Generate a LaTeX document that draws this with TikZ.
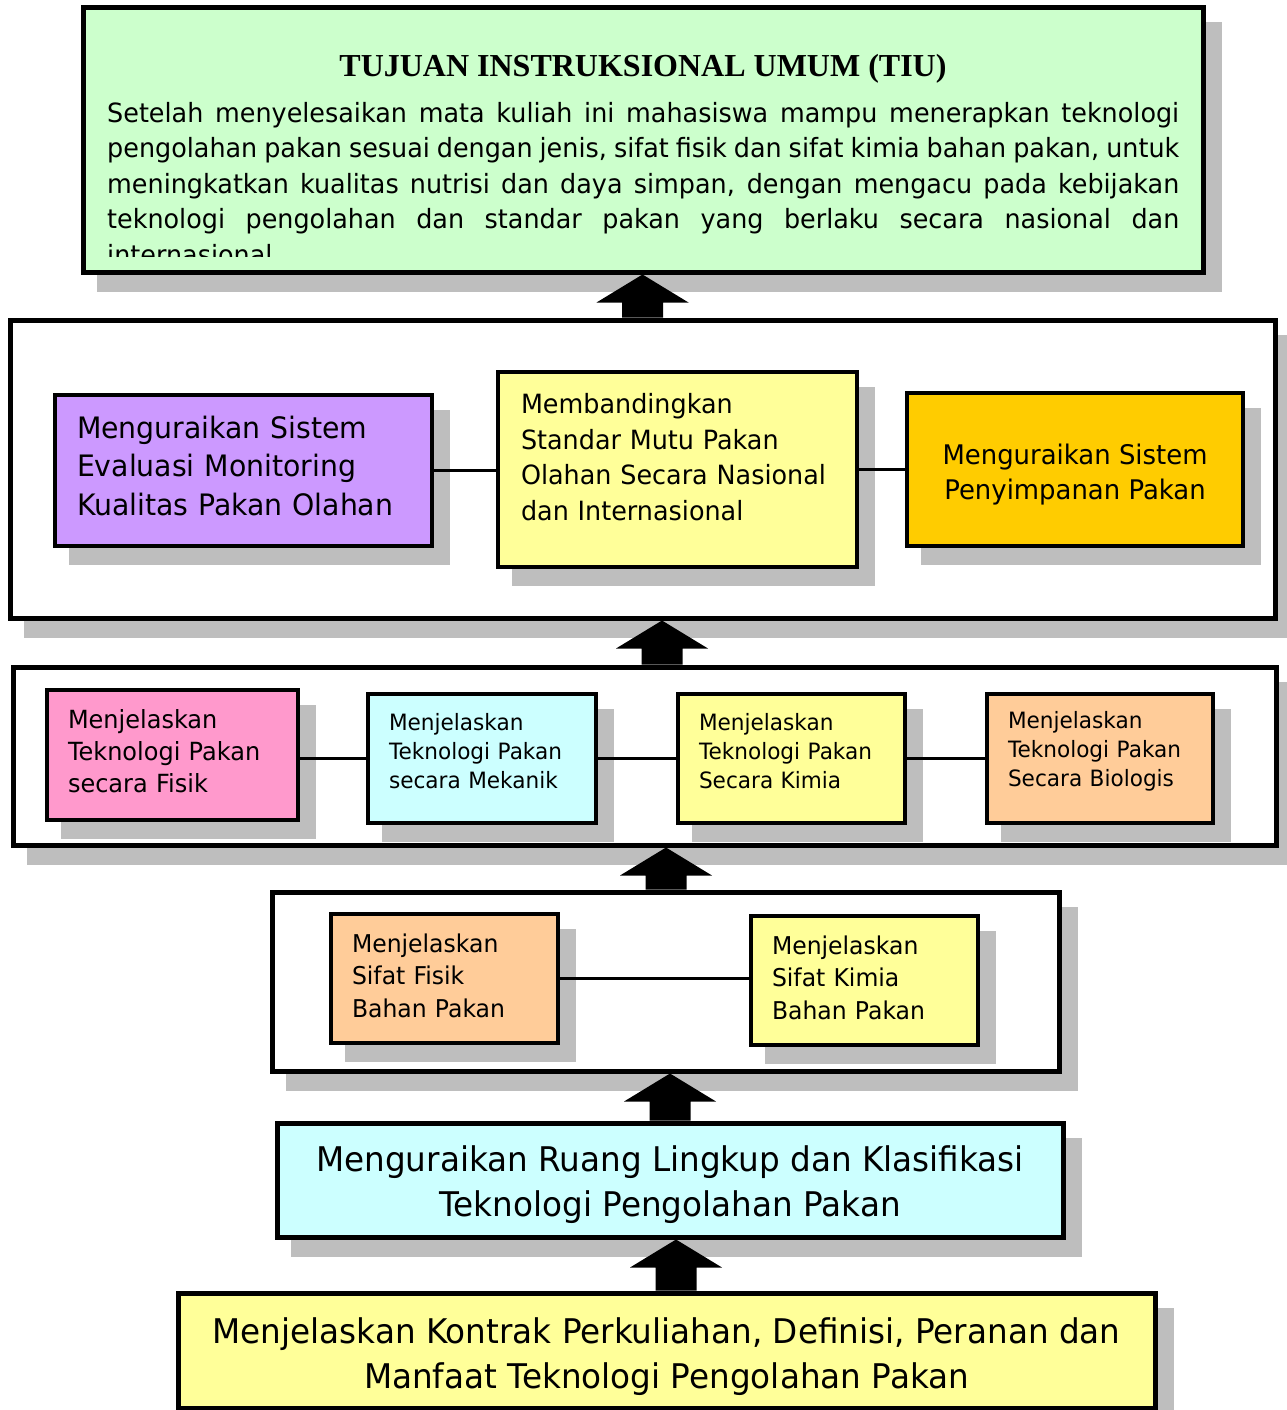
\documentclass[tikz,border=0pt]{standalone}
\usepackage{fontspec}
\setmainfont{DejaVu Sans}[FakeStretch=0.96]
\newfontfamily\tiufont{Liberation Serif}
\usetikzlibrary{shadows,calc}
\definecolor{tiugreen}{HTML}{CCFFCC}
\definecolor{lilac}{HTML}{CC99FF}
\definecolor{lemon}{HTML}{FFFF99}
\definecolor{amber}{HTML}{FFCC00}
\definecolor{rose}{HTML}{FF99CC}
\definecolor{aqua}{HTML}{CCFFFF}
\definecolor{peach}{HTML}{FFCC99}
\definecolor{shadowgray}{HTML}{BEBEBE}
\newcommand{\fs}[2]{\fontsize{#1}{#2}\selectfont}
\newcommand{\lift}[1]{\par\hrule height #1 width 0pt}
\newcommand{\jline}[1]{\hbox to 1072pt{#1}}
\begin{document}
\begin{tikzpicture}[x=1pt,y=-1pt,
  boxshadow/.style={drop shadow={shadow xshift=16pt,shadow yshift=-17pt,fill=shadowgray,draw=shadowgray,opacity=1}},
  groupbox/.style={draw,line width=5pt,fill=white,boxshadow,inner sep=0pt},
  itembox/.style={draw,line width=3.5pt,boxshadow,inner ysep=0pt,align=left},
  linkline/.style={line width=3pt},
  blockarrow/.style={to path={let \p1=(\tikztostart),\p2=(\tikztotarget) in
    (\x1-20.5pt,\y1)--(\x1-20.5pt,\y2-28pt)--(\x1-46pt,\y2-28pt)--(\x1,\y2)
    --(\x1+46pt,\y2-28pt)--(\x1+20.5pt,\y2-28pt)--(\x1+20.5pt,\y1)--cycle}}]
\useasboundingbox (0,0) rectangle (1286,1410);
% TIU
\node[groupbox,fill=tiugreen,minimum width=1120,minimum height=264] (tiu) at (643,140) {};
\node[font=\tiufont\bfseries\fs{32}{36},anchor=base,inner sep=0pt] (tiutitle) at (643,77) {TUJUAN INSTRUKSIONAL UMUM (TIU)};
\begin{scope}
\clip (86,11) rectangle (1200,256);
\node[anchor=north west,inner sep=0pt,font=\fs{26.5}{35.5}] (tiutext) at (107,102) {\vbox{%
  \jline{Setelah menyelesaikan mata kuliah ini mahasiswa mampu menerapkan teknologi}
  \jline{pengolahan pakan sesuai dengan jenis, sifat fisik dan sifat kimia bahan pakan, untuk}
  \jline{meningkatkan kualitas nutrisi dan daya simpan, dengan mengacu pada kebijakan}
  \jline{teknologi pengolahan dan standar pakan yang berlaku secara nasional dan}
  \hbox{internasional}}};
\end{scope}
% level 4
\node[groupbox,minimum width=1265,minimum height=298] (grpA) at (642.5,469) {};
\node[itembox,fill=lilac,minimum width=377,minimum height=151,text width=333pt,inner xsep=22pt,font=\fs{29.5}{38.5}] (evaluasi) at (243.5,470.5)
  {Menguraikan Sistem\\Evaluasi Monitoring\\Kualitas Pakan Olahan\lift{10pt}};
\node[itembox,fill=lemon,minimum width=359,minimum height=195,text width=313pt,inner xsep=23pt,font=\fs{26.5}{35.5}] (standar) at (677.5,469.5)
  {Membandingkan\\Standar Mutu Pakan\\Olahan Secara Nasional\\dan Internasional\lift{25pt}};
\node[itembox,fill=amber,minimum width=336,minimum height=153,inner xsep=0pt,align=center,font=\fs{27}{35.5}] (simpan) at (1075,469.5)
  {Menguraikan Sistem\\Penyimpanan Pakan\par\vspace{-10pt}};
% level 3
\node[groupbox,minimum width=1263,minimum height=178] (grpB) at (644.5,756) {};
\node[itembox,fill=rose,minimum width=251,minimum height=130,text width=209pt,inner xsep=21pt,font=\fs{25}{32}] (fisik) at (172.5,755)
  {Menjelaskan\\Teknologi Pakan\\secara Fisik\lift{7pt}};
\node[itembox,fill=aqua,minimum width=228,minimum height=129,text width=186pt,inner xsep=21pt,font=\fs{22.5}{29}] (mekanik) at (482,758.5)
  {Menjelaskan\\Teknologi Pakan\\secara Mekanik\lift{14pt}};
\node[itembox,fill=lemon,minimum width=227,minimum height=129,text width=185pt,inner xsep=21pt,font=\fs{22.5}{29}] (kimia) at (791.5,758.5)
  {Menjelaskan\\Teknologi Pakan\\Secara Kimia\lift{14pt}};
\node[itembox,fill=peach,minimum width=226,minimum height=129,text width=184pt,inner xsep=21pt,font=\fs{22.5}{29}] (biologis) at (1100,758.5)
  {Menjelaskan\\Teknologi Pakan\\Secara Biologis\lift{14pt}};
% level 2
\node[groupbox,minimum width=787,minimum height=179] (grpC) at (665.5,981.5) {};
\node[itembox,fill=peach,minimum width=227,minimum height=129,text width=185pt,inner xsep=21pt,font=\fs{24.5}{32.5}] (sifatfisik) at (444.5,978.5)
  {Menjelaskan\\Sifat Fisik\\Bahan Pakan\lift{6pt}};
\node[itembox,fill=lemon,minimum width=227,minimum height=129,text width=185pt,inner xsep=21pt,font=\fs{24.5}{32.5}] (sifatkimia) at (864.5,980.5)
  {Menjelaskan\\Sifat Kimia\\Bahan Pakan\lift{6pt}};
% level 1 and 0
\node[itembox,line width=5pt,fill=aqua,minimum width=786,minimum height=114,inner xsep=0pt,align=center,font=\fs{34}{45}] (lingkup) at (670,1180)
  {Menguraikan Ruang Lingkup dan Klasifikasi\\Teknologi Pengolahan Pakan\par\vspace{-10pt}};
\node[itembox,line width=5pt,fill=lemon,minimum width=977,minimum height=115,inner xsep=0pt,align=center,font=\fs{34}{45}] (kontrak) at (666.5,1350.5)
  {Menjelaskan Kontrak Perkuliahan, Definisi, Peranan dan\\Manfaat Teknologi Pengolahan Pakan\par\vspace{-12pt}};
% links
\draw[linkline] (evaluasi.east) -- (evaluasi.east -| standar.west);
\draw[linkline] (standar.east) -- (standar.east -| simpan.west);
\draw[linkline] (mekanik.west -| fisik.east) -- (mekanik.west);
\draw[linkline] (mekanik.east) -- (kimia.west);
\draw[linkline] (kimia.east) -- (biologis.west);
\draw[linkline] (sifatfisik.east) -- (sifatfisik.east -| sifatkimia.west);
% block arrows
\fill[blockarrow] (grpA.north) to (tiu.south);
\fill[blockarrow] (grpB.north -| 662,0) to (grpA.south);
\fill[blockarrow] (grpC.north -| 666,0) to (grpB.south);
\fill[blockarrow] (lingkup.north) to (grpC.south);
\fill[blockarrow] (kontrak.north -| 676,0) to (lingkup.south);
\end{tikzpicture}
\end{document}
